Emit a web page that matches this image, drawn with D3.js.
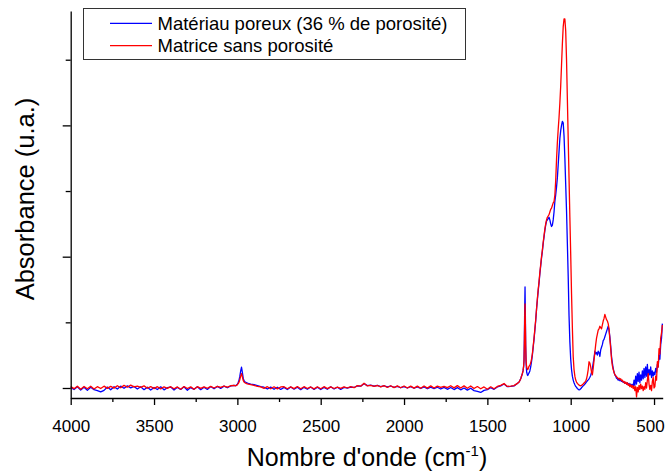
<!DOCTYPE html>
<html><head><meta charset="utf-8">
<script src="https://cdn.jsdelivr.net/npm/d3@7"></script>
<style>
body{margin:0;background:#fff}
svg{display:block}
text{font-family:"Liberation Sans",Arial,Helvetica,sans-serif;fill:#000}
</style>
</head><body>
<svg id="chart" width="667" height="472"></svg>
<script>
// ---------- data ----------
const seriesNames = ["Matériau poreux (36 % de porosité)", "Matrice sans porosité"];
const seriesColors = ["#0000ff", "#ff0000"];
const xTickValues = [4000, 3500, 3000, 2500, 2000, 1500, 1000, 500];
const xMinorTickValues = [3750, 3250, 2750, 2250, 1750, 1250, 750];
const yMajorTickValues = [0, 1, 2];
const yMinorTickValues = [0.5, 1.5, 2.5];
const xTitle = "Nombre d'onde (cm";
const xTitleSup = "-1";
const yTitle = "Absorbance (u.a.)";

// spectra sampled on segments: [start wavenumber, spacing]
const gridA1 = [4000, 20];
const poreuxA1 = [0.004,-0.012,0.009,-0.015,0.006,-0.018,0.005,-0.013,-0.020,-0.030,
 -0.018,0.007,-0.014,0.010,-0.008,0.014,-0.002,0.016,0.001,0.012,
 -0.008,0.010,-0.013,0.006,-0.016,0.004,-0.012,0.009,-0.014,0.002,
 0.007,-0.015,0.005,-0.011,0.010,-0.017,0.003,-0.010,0.009,-0.013,
 0.006,-0.011,0.011,-0.006,0.012,-0.003,0.014,0.002,0.016,0.019];
const matriceA1 = [0.012,-0.005,0.014,-0.009,0.012,-0.006,0.013,-0.008,0.010,-0.004,
 0.014,-0.003,0.012,-0.001,0.017,0.002,0.020,0.006,0.022,0.008,
 0.014,0.005,0.016,-0.002,0.011,-0.005,0.010,-0.007,0.009,-0.003,
 0.010,-0.006,0.008,-0.009,0.011,-0.004,0.009,-0.010,0.010,-0.003,
 0.009,-0.002,0.012,0.000,0.013,0.004,0.015,0.006,0.017,0.020];

const gridA2 = [3010, 5];
const poreuxA2 = [0.018,0.022,0.030,0.042,0.060,0.090,0.130,0.158,0.120,0.075,0.055,0.048,0.044,0.040,0.038,0.035];
const matriceA2 = [0.017,0.020,0.025,0.033,0.045,0.065,0.090,0.110,0.085,0.058,0.045,0.040,0.037,0.033,0.032,0.030];

const gridA3 = [2920, 20];
const poreuxA3 = [0.030,0.026,0.018,0.010,0.006,-0.008,0.007,-0.010,0.006,-0.011,
 0.005,-0.012,0.008,-0.009,0.006,-0.013,0.005,-0.010,0.007,-0.011,
 0.006,-0.012,0.005,-0.010,0.009,-0.008,0.006,-0.011,0.005,0.000,
 0.006,0.004,0.016,0.014,0.033,0.018,0.022,0.014,0.020,0.010,
 0.017,0.008,0.015,0.004,0.013,0.002,0.011,0.000,0.010,-0.002,
 0.009,-0.004,0.008,-0.006,0.007,-0.005,0.006,-0.008,0.005,-0.010,
 0.004,-0.012,0.003,-0.014,0.000,-0.016,-0.002,-0.020,-0.026,-0.034,
 -0.018,-0.012,0.002,-0.010,0.008,0.016,0.030,0.010,0.012,0.016,
 0.035];
const matriceA3 = [0.026,0.020,0.012,0.009,-0.003,0.010,-0.006,0.009,-0.007,0.008,
 0.010,-0.006,0.009,-0.005,0.011,-0.006,0.010,-0.004,0.008,-0.007,
 0.009,-0.006,0.010,-0.005,0.008,-0.004,0.006,-0.003,0.009,0.000,
 0.010,0.002,0.018,0.014,0.036,0.016,0.020,0.012,0.019,0.008,
 0.018,0.004,0.017,0.003,0.016,0.002,0.015,0.000,0.014,-0.001,
 0.014,-0.002,0.015,-0.001,0.016,0.000,0.014,0.004,0.013,0.003,
 0.017,0.001,0.018,0.000,0.016,-0.002,0.015,-0.004,0.011,-0.006,
 0.008,-0.009,0.009,-0.006,0.012,0.020,0.034,0.012,0.014,0.018,
 0.035];

const gridB = [1310, 2];
const poreuxB = [0.045,0.050,0.055,0.060,0.065,0.070,0.078,0.085,0.095,0.100,
 0.110,0.120,0.130,0.150,0.170,0.220,0.380,0.600,0.770,0.550,
 0.320,0.200,0.150,0.120,0.110,0.100,0.095,0.100,0.105,0.110,
 0.115];
const matriceB = [0.045,0.048,0.055,0.058,0.066,0.070,0.077,0.086,0.093,0.100,
 0.110,0.120,0.130,0.150,0.170,0.210,0.340,0.520,0.640,0.500,
 0.320,0.220,0.180,0.160,0.150,0.145,0.140,0.145,0.150,0.160,
 0.165];

const gridC1 = [1245, 5];
const poreuxC1 = [0.13,0.16,0.20,0.25,0.31,0.37,0.44,0.51,0.60,0.67,
 0.74,0.80,0.87,0.93,0.99,1.04,1.10,1.15,1.20,1.24,
 1.27,1.28,1.29,1.30,1.28,1.25,1.23,1.24,1.28,1.34,
 1.42,1.47,1.53,1.60,1.70,1.80,1.90,1.96,2.00,2.03,
 2.02,1.92,1.75,1.55,1.35,1.10,0.85,0.55,0.35];
const matriceC1 = [0.175,0.19,0.22,0.26,0.32,0.38,0.45,0.52,0.60,0.68,
 0.75,0.81,0.88,0.94,1.00,1.05,1.11,1.16,1.21,1.25,
 1.28,1.30,1.31,1.32,1.34,1.36,1.37,1.39,1.41,1.42,
 1.47,1.58,1.74,1.87,1.97,2.06,2.17,2.30,2.46,2.62,
 2.75,2.81,2.81,2.72,2.50,2.20,1.90,1.60,1.30];

const gridC2 = [1000, 5];
const poreuxC2 = [0.22,0.14,0.09,0.06,0.04,0.025,0.012,0.004,-0.004,-0.010,
 -0.014,-0.012,-0.006,0.002,0.010,0.016,0.022,0.030,0.038,0.046,
 0.055,0.062,0.070,0.082,0.095,0.12,0.15,0.19,0.23,0.28,
 0.26,0.27,0.25,0.28,0.27,0.24,0.29,0.31,0.33,0.36,
 0.37,0.39,0.41,0.43,0.45,0.47,0.44,0.39,0.32];
const matriceC2 = [1.02,0.72,0.46,0.24,0.14,0.09,0.06,0.045,0.035,0.028,
 0.022,0.018,0.017,0.020,0.025,0.030,0.038,0.045,0.052,0.070,
 0.10,0.14,0.20,0.19,0.16,0.12,0.10,0.15,0.21,0.27,
 0.33,0.38,0.41,0.44,0.45,0.47,0.46,0.45,0.48,0.51,
 0.53,0.56,0.54,0.52,0.51,0.49,0.45,0.37,0.30];

const gridC3 = [755, 5];
const poreuxC3 = [0.24,0.19,0.15,0.12,0.10,0.09,0.075,0.07,0.06,0.065,
 0.055,0.06,0.05,0.055,0.042,0.048,0.036,0.042,0.03,0.038,
 0.025,0.035,0.02,0.03,0.018,0.028,0.01,0.06,0.02,0.09,
 0.03,0.11,0.05,0.12,0.04,0.10,0.06,0.13,0.07,0.15,
 0.08,0.16,0.09,0.18,0.07,0.14,0.10,0.16,0.08,0.13,
 0.09,0.12,0.10,0.15,0.12,0.18,0.16,0.25,0.22,0.33,
 0.38,0.49];
const matriceC3 = [0.22,0.17,0.14,0.12,0.10,0.095,0.085,0.08,0.07,0.075,
 0.065,0.07,0.055,0.06,0.045,0.05,0.035,0.045,0.03,0.04,
 0.02,0.03,0.01,0.025,0.005,0.02,-0.005,0.015,-0.02,0.01,
 -0.068,0.005,-0.03,0.02,-0.01,0.03,-0.005,0.015,-0.02,0.01,
 -0.01,0.04,0.0,0.06,0.11,0.03,-0.01,0.02,-0.02,0.05,
 0.08,0.0,0.01,0.09,0.06,0.20,0.16,0.30,0.26,0.38,
 0.42,0.48];

// ---------- build ----------
function expand(grid, vals) { return vals.map((v, i) => [grid[0] - i * grid[1], v]); }
const grids = [gridA1, gridA2, gridA3, gridB, gridC1, gridC2, gridC3];
const poreuxSegs = [poreuxA1, poreuxA2, poreuxA3, poreuxB, poreuxC1, poreuxC2, poreuxC3];
const matriceSegs = [matriceA1, matriceA2, matriceA3, matriceB, matriceC1, matriceC2, matriceC3];
const poreux = grids.flatMap((g, k) => expand(g, poreuxSegs[k]));
const matrice = grids.flatMap((g, k) => expand(g, matriceSegs[k]));

const svg = d3.select("#chart");
const pLeft = 70.7, pRight = 662.7, pTop = 11, pBottom = 398;
const x = d3.scaleLinear().domain([4000, 448]).range([pLeft, pRight]);
const y = d3.scaleLinear().domain([-0.0762, 2.871]).range([pBottom, pTop]);

const line = d3.line().x(d => x(d[0])).y(d => y(d[1]));

[poreux, matrice].forEach((s, k) => {
  svg.append("path").datum(s).attr("d", line)
    .attr("fill", "none").attr("stroke", seriesColors[k])
    .attr("stroke-width", 1.3).attr("stroke-linejoin", "round");
});

// x axis
const xAxis = svg.append("g").attr("transform", `translate(0,${pBottom})`)
  .call(d3.axisBottom(x).tickValues(xTickValues).tickFormat(d3.format("d")).tickSize(7).tickPadding(15).tickSizeOuter(0));
xAxis.select(".domain").attr("stroke-width", 1.3);
xAxis.selectAll(".tick line").attr("stroke-width", 1.3);
xAxis.selectAll("text").attr("font-size", 17).attr("font-family", "Liberation Sans, Arial, sans-serif")
  .attr("dx", d => d === 500 ? -4 : 0);
svg.append("g").attr("transform", `translate(0,${pBottom})`)
  .call(d3.axisBottom(x).tickValues(xMinorTickValues).tickFormat("").tickSize(4).tickSizeOuter(0))
  .call(g => g.select(".domain").remove())
  .selectAll(".tick line").attr("stroke-width", 1.3);

// y axis
const yAxis = svg.append("g").attr("transform", `translate(${pLeft},0)`)
  .call(d3.axisLeft(y).tickValues(yMajorTickValues).tickFormat("").tickSize(8).tickSizeOuter(0));
yAxis.select(".domain").attr("stroke-width", 1.3);
yAxis.selectAll(".tick line").attr("stroke-width", 1.3);
svg.append("g").attr("transform", `translate(${pLeft},0)`)
  .call(d3.axisLeft(y).tickValues(yMinorTickValues).tickFormat("").tickSize(5).tickSizeOuter(0))
  .call(g => g.select(".domain").remove())
  .selectAll(".tick line").attr("stroke-width", 1.3);

// titles
const xt = svg.append("text").attr("x", 367).attr("y", 466).attr("text-anchor", "middle")
  .attr("font-size", 25);
xt.append("tspan").text(xTitle);
xt.append("tspan").attr("dy", -10).attr("font-size", 15).text(xTitleSup);
xt.append("tspan").attr("dy", 10).text(")");

svg.append("text").attr("transform", "translate(34,199) rotate(-90)")
  .attr("text-anchor", "middle").attr("font-size", 25.5).text(yTitle);

// legend
const lg = svg.append("g");
lg.append("rect").attr("x", 83.5).attr("y", 8.5).attr("width", 382).attr("height", 51)
  .attr("fill", "#fff").attr("stroke", "#333").attr("stroke-width", 1);
seriesNames.forEach((n, k) => {
  const yy = 23.3 + k * 22.4;
  lg.append("line").attr("x1", 110).attr("x2", 152).attr("y1", yy).attr("y2", yy)
    .attr("stroke", seriesColors[k]).attr("stroke-width", 1.2);
  lg.append("text").attr("x", 157.5).attr("y", yy + 6.3).attr("font-size", 18.5).text(n);
});
</script>
</body></html>
